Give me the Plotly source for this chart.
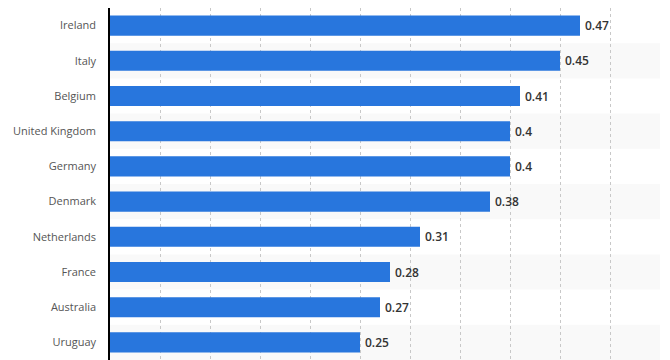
import plotly.graph_objects as go

countries = ["Ireland", "Italy", "Belgium", "United Kingdom", "Germany",
             "Denmark", "Netherlands", "France", "Australia", "Uruguay"]
values = [0.47, 0.45, 0.41, 0.4, 0.4, 0.38, 0.31, 0.28, 0.27, 0.25]
value_labels = ["0.47", "0.45", "0.41", "0.4", "0.4", "0.38", "0.31", "0.28", "0.27", "0.25"]

x_max = 0.55

fig = go.Figure()

# alternating row bands
shapes = []
for i, c in enumerate(countries):
    if i % 2 == 1:
        shapes.append(dict(type="rect", xref="paper", yref="y", x0=0, x1=1,
                           y0=i - 0.5, y1=i + 0.5, fillcolor="#f9f9f9",
                           line=dict(width=0), layer="below"))

fig.add_trace(go.Bar(
    y=list(range(len(countries))), x=values, orientation="h",
    marker=dict(color="#2876dd", line=dict(width=0)),
    text=["\u2009" + t for t in value_labels], textposition="outside", cliponaxis=False,
    textfont=dict(family="Open Sans, sans-serif", size=12, color="#333333", weight=600),
    hoverinfo="skip",
))

# the page body adds an 8px offset, margins compensate for it
fig.update_layout(
    width=670, height=360,
    margin=dict(l=102, r=18, t=0, b=8, autoexpand=False),
    paper_bgcolor="white", plot_bgcolor="white",
    bargap=0.43, showlegend=False, shapes=shapes,
    font=dict(family="Open Sans, sans-serif", size=11, color="#555555"),
)
fig.update_xaxes(range=[0, x_max], dtick=0.05, showticklabels=False,
                 showgrid=True, gridcolor="#c8c8c8", griddash="dot", gridwidth=1,
                 zeroline=False, showline=False, automargin=False)
fig.update_yaxes(tickmode="array", tickvals=list(range(len(countries))), ticktext=countries,
                 range=[len(countries) - 0.5, -0.5], showgrid=False,
                 showline=True, linecolor="#000000", linewidth=1.5,
                 ticks="", ticklabelstandoff=10, zeroline=False, automargin=False)

fig.write_html("out.html")
